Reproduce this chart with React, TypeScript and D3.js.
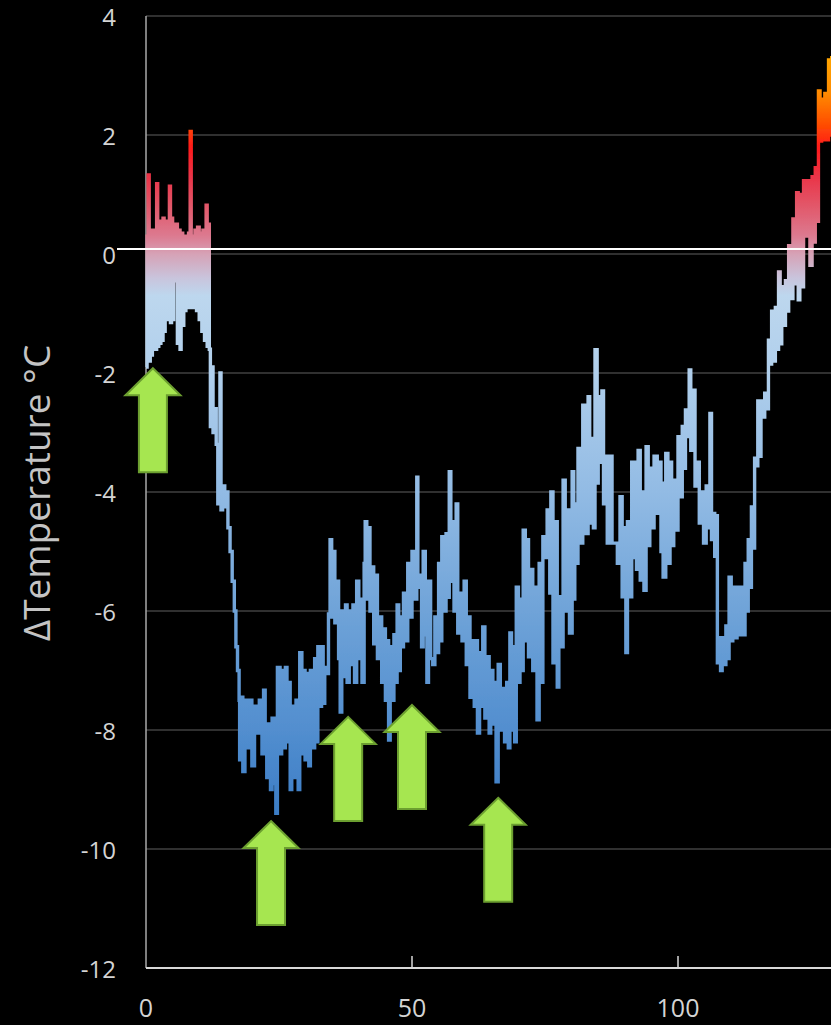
import React from "react";
import * as d3 from "d3";

// ---------- DATA ----------
// [age (kyr before present), ΔTemperature °C]
const holocene: [number, number][] = [
  [0.0,-1.9],[0.2,0.3],[0.4,1.33],[0.6,-1.8],[0.8,0.35],[1.0,-1.7],[1.2,0.4],[1.4,-1.6],[1.6,0.3],[1.8,-1.6],
  [2.0,1.18],[2.2,-1.55],[2.4,0.45],[2.6,-1.5],[2.8,0.55],[3.0,-1.45],[3.2,0.6],[3.4,-1.3],[3.6,0.5],[3.8,-1.1],
  [4.0,0.55],[4.2,-1.1],[4.4,1.14],[4.6,-1.15],[4.8,0.6],[5.0,-1.1],[5.2,0.45],[5.45,-0.45],[5.6,0.5],[5.9,-1.5],
  [6.1,0.4],[6.4,-1.6],[6.6,0.35],[6.9,-1.2],[7.1,0.3],[7.3,-0.95],[7.5,0.3],[7.8,-0.9],[8.0,0.35],[8.3,2.06],
  [8.5,-0.9],[8.7,0.3],[9.0,-0.9],[9.2,0.4],[9.5,-0.95],[9.7,0.45],[10.0,-1.1],[10.2,0.35],[10.5,-1.3],[10.7,0.4],
  [11.0,-1.45],[11.3,0.82],[11.5,-1.55],[11.7,0.5],[11.9,-1.6]
];
const deglaciation: [number, number][] = [
  [12.1,-2.9],[12.3,-1.9],[12.6,-3.0],[12.9,-2.6],[13.2,-3.2],[13.5,-4.2],[13.9,-2.0],[14.1,-4.3],[14.4,-3.9],
  [14.8,-4.25],[15.1,-4.0],[15.4,-4.6],[15.8,-5.0],[16.2,-5.5],[16.6,-6.0],[16.9,-6.6],[17.2,-7.0],[17.5,-7.5]
];
const lastGlacial: [number, number][] = [
  [17.6,-8.5],[17.9,-7.45],[18.2,-8.7],[18.6,-7.5],[19.0,-8.3],[19.5,-7.5],[19.9,-8.6],[20.4,-7.6],[20.9,-8.05],
  [21.3,-7.5],[21.8,-8.4],[22.1,-7.33],[22.4,-8.0],[22.7,-8.8],[23.0,-7.9],[23.4,-9.0],[23.7,-7.8],[24.1,-8.9],
  [24.4,-9.4],[24.7,-6.95],[25.2,-8.4],[25.5,-7.0],[25.9,-8.3],[26.2,-6.95],[26.5,-8.2],[26.8,-7.2],[27.1,-9.0],
  [27.4,-7.6],[27.8,-8.8],[28.2,-7.5],[28.6,-9.0],[28.9,-6.7],[29.3,-8.4],[29.6,-7.0],[29.9,-8.5],[30.3,-7.05],
  [30.6,-8.6],[30.9,-7.0],[31.3,-8.3],[31.7,-6.8],[32.0,-8.2],[32.3,-6.6],[32.7,-7.6],[33.0,-6.6],[33.3,-7.55],
  [33.6,-6.95],[34.0,-7.05],[34.3,-6.05],[34.6,-4.8],[34.9,-6.1],[35.2,-5.0],[35.5,-6.2],[35.9,-5.5],[36.2,-6.8],
  [36.5,-7.7],[36.8,-6.0],[37.2,-7.1],[37.5,-5.9],[37.8,-7.2],[38.2,-6.0],[38.5,-6.9],[38.9,-5.9],[39.2,-7.2],
  [39.6,-5.5],[40.0,-6.8],[40.2,-5.8],[40.6,-7.2],[41.0,-5.2],[41.2,-4.5],[41.5,-5.8],[41.8,-4.6],[42.1,-6.0],
  [42.5,-5.26],[42.8,-6.55],[43.1,-5.4],[43.5,-6.8],[43.9,-6.1],[44.3,-7.2],[44.6,-6.3],[45.0,-7.5],[45.3,-6.5],
  [45.6,-8.17],[45.9,-6.6],[46.3,-7.5],[46.6,-6.4],[46.9,-7.2],[47.2,-5.9],[47.5,-7.0]
];
const midGlacial: [number, number][] = [
  [47.8,-6.1],[48.1,-6.6],[48.4,-5.7],[48.8,-6.5],[49.2,-5.2],[49.6,-6.1],[50.0,-5.0],[50.4,-5.8],[50.9,-3.75],
  [51.1,-5.6],[51.5,-5.4],[51.8,-6.6],[52.1,-5.0],[52.5,-6.4],[52.8,-7.2],[53.1,-5.5],[53.5,-6.8],[53.9,-6.9],
  [54.3,-6.1],[54.7,-6.7],[55.0,-5.2],[55.3,-6.5],[55.6,-4.75],[56.0,-6.0],[56.4,-4.7],[56.7,-5.77],[57.0,-3.66],
  [57.3,-5.5],[57.6,-4.5],[57.9,-6.0],[58.3,-4.2],[58.6,-6.37],[59.0,-5.7],[59.4,-6.5],[59.8,-5.5],[60.2,-6.9],
  [60.5,-6.1],[60.9,-7.45],[61.3,-6.5],[61.7,-7.6],[62.0,-6.5],[62.3,-8.05],[62.7,-6.7],[63.0,-7.6],[63.3,-6.27],
  [63.7,-7.8],[64.1,-6.77],[64.5,-8.05],[64.8,-7.0],[65.2,-7.9],[65.5,-7.2],[65.8,-8.87],[66.2,-6.9],[66.6,-8.0],
  [67.0,-7.3],[67.4,-8.2],[67.8,-7.2],[68.1,-8.3],[68.4,-6.37],[68.7,-8.0],[69.0,-6.6],[69.3,-8.2],[69.6,-5.6],
  [70.0,-7.2],[70.3,-5.8],[70.6,-7.0],[70.9,-4.64],[71.3,-6.5],[71.6,-4.8],[71.9,-6.77],[72.3,-5.3],[72.7,-7.0],
  [73.1,-5.6],[73.5,-7.83],[73.9,-5.2]
];
const earlyGlacial: [number, number][] = [
  [74.3,-7.2],[74.6,-4.75],[75.0,-5.1],[75.4,-4.3],[75.9,-5.7],[76.1,-4.0],[76.5,-6.87],[76.9,-4.5],[77.3,-7.28],
  [77.6,-5.76],[78.0,-6.6],[78.4,-3.8],[78.8,-6.0],[79.1,-4.3],[79.6,-6.37],[80.1,-3.66],[80.4,-5.8],[80.6,-4.2],
  [81.0,-5.2],[81.2,-3.27],[81.6,-4.86],[82.1,-2.54],[82.5,-4.7],[83.1,-2.4],[83.4,-4.52],[83.8,-3.1],[84.1,-4.6],
  [84.4,-1.61],[84.8,-3.85],[85.0,-2.4],[85.3,-3.5],[85.7,-2.3],[86.0,-4.2],[86.3,-3.4],[86.7,-4.86],[87.2,-3.4],
  [87.6,-4.86],[88.2,-4.86],[88.6,-5.2],[89.1,-4.08],[89.5,-5.76],[90.0,-4.6],[90.2,-6.7],[90.5,-4.5],[91.0,-5.76],
  [91.3,-3.5],[91.6,-5.1],[91.9,-3.5],[92.2,-5.3],[92.5,-3.3],[92.9,-5.48],[93.2,-4.0],[93.6,-5.65],[94.0,-3.24],
  [94.4,-4.9],[94.7,-3.6],[95.1,-4.6],[95.5,-3.4],[96.1,-4.36],[96.5,-3.5],[96.8,-5.0],[97.0,-3.85],[97.2,-5.43],
  [97.7,-3.35],[98.1,-5.2],[98.5,-3.5],[98.8,-4.9],[99.2,-3.8],[99.5,-4.64],[100.0,-3.07],[100.4,-4.08],[100.8,-2.9],
  [101.1,-3.6],[101.4,-2.62],[101.7,-3.07],[102.1,-1.95],[102.4,-3.3],[102.8,-2.29],[103.2,-3.9],[103.6,-3.5],
  [104.0,-4.52],[104.5,-4.0],[104.8,-4.86],[105.3,-3.9],[105.6,-4.6],[106.0,-2.68],[106.3,-4.8],[106.6,-4.36]
];
const eemian: [number, number][] = [
  [106.9,-5.08],[107.1,-4.4],[107.4,-6.87],[107.7,-6.45],[108.0,-7.0],[108.3,-6.45],[108.7,-6.9],[109.0,-6.25],
  [109.3,-6.8],[109.6,-5.43],[110.0,-6.5],[110.3,-5.6],[110.7,-6.45],[111.1,-5.6],[111.5,-6.4],[111.8,-5.6],
  [112.2,-6.4],[112.6,-5.2],[112.9,-6.0],[113.2,-4.8],[113.5,-5.6],[113.8,-4.25],[114.1,-4.94],[114.4,-3.43],
  [114.7,-3.56],[115.0,-2.47],[115.3,-3.4],[115.6,-2.47],[116.0,-2.74],[116.3,-2.34],[116.7,-2.6],[117.0,-1.45],
  [117.3,-1.85],[117.6,-0.96],[118.0,-1.8],[118.3,-0.9],[118.6,-1.6],[118.9,-0.3],[119.2,-1.51],[119.5,-0.55],
  [119.9,-1.2],[120.2,-0.45],[120.5,-0.96],[120.8,0.14],[121.2,-0.75],[121.6,0.59],[121.9,-0.5],[122.3,1.03],
  [122.6,-0.77],[122.9,1.0],[123.3,-0.55],[123.6,1.23],[124.0,0.3],[124.4,1.23],[124.8,-0.19],[125.2,1.3],
  [125.5,0.2],[125.8,1.45],[126.1,0.55],[126.4,2.74],[126.7,1.9],[127.0,2.6],[127.3,1.92],[127.6,2.7],
  [128.0,1.92],[128.3,3.26],[128.6,2.0],[128.9,3.3],[129.2,1.4]
];

const yTicks = [4, 2, 0, -2, -4, -6, -8, -10, -12];
const xTicks = [0, 50, 100];
// arrow tips, in data coordinates [age, temp]
const arrowTips: [number, number][] = [[1.3, -1.92], [23.5, -9.53], [38.0, -7.78], [50.0, -7.58], [66.2, -9.14]];

// colour ramp by temperature
const rampTemps = [3.3, 2.7, 2.2, 1.8, 1.3, 0.8, 0.3, 0, -0.4, -0.7, -2, -4, -6, -8, -9.5];
const rampColors = ["#ffa500", "#ff8a00", "#ff5000", "#ff1a1a", "#ea3448", "#e2586a", "#dc7a90", "#d6a2b6",
  "#c9c4dc", "#bdd7ee", "#b0cfec", "#92bbe4", "#6fa3d8", "#528ecf", "#3a7cc5"];

const series = [...holocene, ...deglaciation, ...lastGlacial, ...midGlacial, ...earlyGlacial, ...eemian];

export default function App() {
  const W = 831, H = 1025;
  const x = d3.scaleLinear().domain([0, 150]).range([146, 146 + 150 * 5.32]);
  const y = d3.scaleLinear().domain([-12, 4]).range([968, 16]);
  const line = d3.line<[number, number]>()
    .x(d => x(d[0]))
    .y(d => y(d[1]))
    .curve(d3.curveStepAfter);

  const yTop = y(rampTemps[0]);
  const yBot = y(rampTemps[rampTemps.length - 1]);
  const font = "'Open Sans', 'DejaVu Sans', sans-serif";

  const arrowPath = (tx: number, ty: number) => {
    const hw = 27.5, hh = 27, sw = 14, len = 104;
    return `M${tx},${ty} L${tx + hw},${ty + hh} L${tx + sw},${ty + hh} L${tx + sw},${ty + len} L${tx - sw},${ty + len} L${tx - sw},${ty + hh} L${tx - hw},${ty + hh} Z`;
  };

  return (
    <svg width={W} height={H} style={{ position: "absolute", left: 0, top: 0, background: "#000" }}>
      <defs>
        <linearGradient id="tempGrad" gradientUnits="userSpaceOnUse" x1={0} y1={yTop} x2={0} y2={yBot}>
          {rampTemps.map((t, i) => (
            <stop key={i} offset={(y(t) - yTop) / (yBot - yTop)} stopColor={rampColors[i]} />
          ))}
        </linearGradient>
        <filter id="soft" x="-5%" y="-5%" width="110%" height="110%">
          <feGaussianBlur stdDeviation={0.45} />
        </filter>
      </defs>
      <rect x={0} y={0} width={W} height={H} fill="#000" />

      {/* gridlines */}
      {yTicks.filter(t => t > -12).map(t => (
        <line key={t} x1={x(0)} x2={W + 20} y1={y(t)} y2={y(t)} stroke="#414141" strokeWidth={1.6} />
      ))}

      {/* y axis */}
      <line x1={x(0)} x2={x(0)} y1={y(4)} y2={y(-12)} stroke="#a8a8a8" strokeWidth={1.5} />

      {/* data */}
      <path d={line(series) || ""} fill="none" stroke="url(#tempGrad)" strokeWidth={3.4}
        strokeLinejoin="miter" filter="url(#soft)" />

      {/* zero reference line */}
      <line x1={117} x2={W + 20} y1={y(0) - 5} y2={y(0) - 5} stroke="#ffffff" strokeWidth={2} />

      {/* x axis */}
      <line x1={x(0)} x2={W + 20} y1={y(-12)} y2={y(-12)} stroke="#d9d9d9" strokeWidth={2} />
      {xTicks.filter(t => t > 0).map(t => (
        <line key={t} x1={x(t)} x2={x(t)} y1={y(-12) - 12} y2={y(-12)} stroke="#d9d9d9" strokeWidth={1.5} />
      ))}

      {/* tick labels */}
      {yTicks.map(t => (
        <text key={t} x={116} y={y(t) + 10} textAnchor="end"
          fontFamily={font} fontSize={24} fill="#d4d4d4">{String(t)}</text>
      ))}
      {xTicks.map(t => (
        <text key={t} x={x(t)} y={1017} textAnchor="middle"
          fontFamily={font} fontSize={25} fill="#d4d4d4">{String(t)}</text>
      ))}

      {/* axis title */}
      <text transform={`translate(50, 493) rotate(-90)`} textAnchor="middle" fontFamily={font}
        fontSize={37} fill="#c4c4c4">ΔTemperature °C</text>

      {/* arrows */}
      {arrowTips.map(([a, t], i) => (
        <path key={i} d={arrowPath(x(a), y(t))} fill="#a6e650" stroke="#6c9f30" strokeWidth={2} />
      ))}
    </svg>
  );
}
